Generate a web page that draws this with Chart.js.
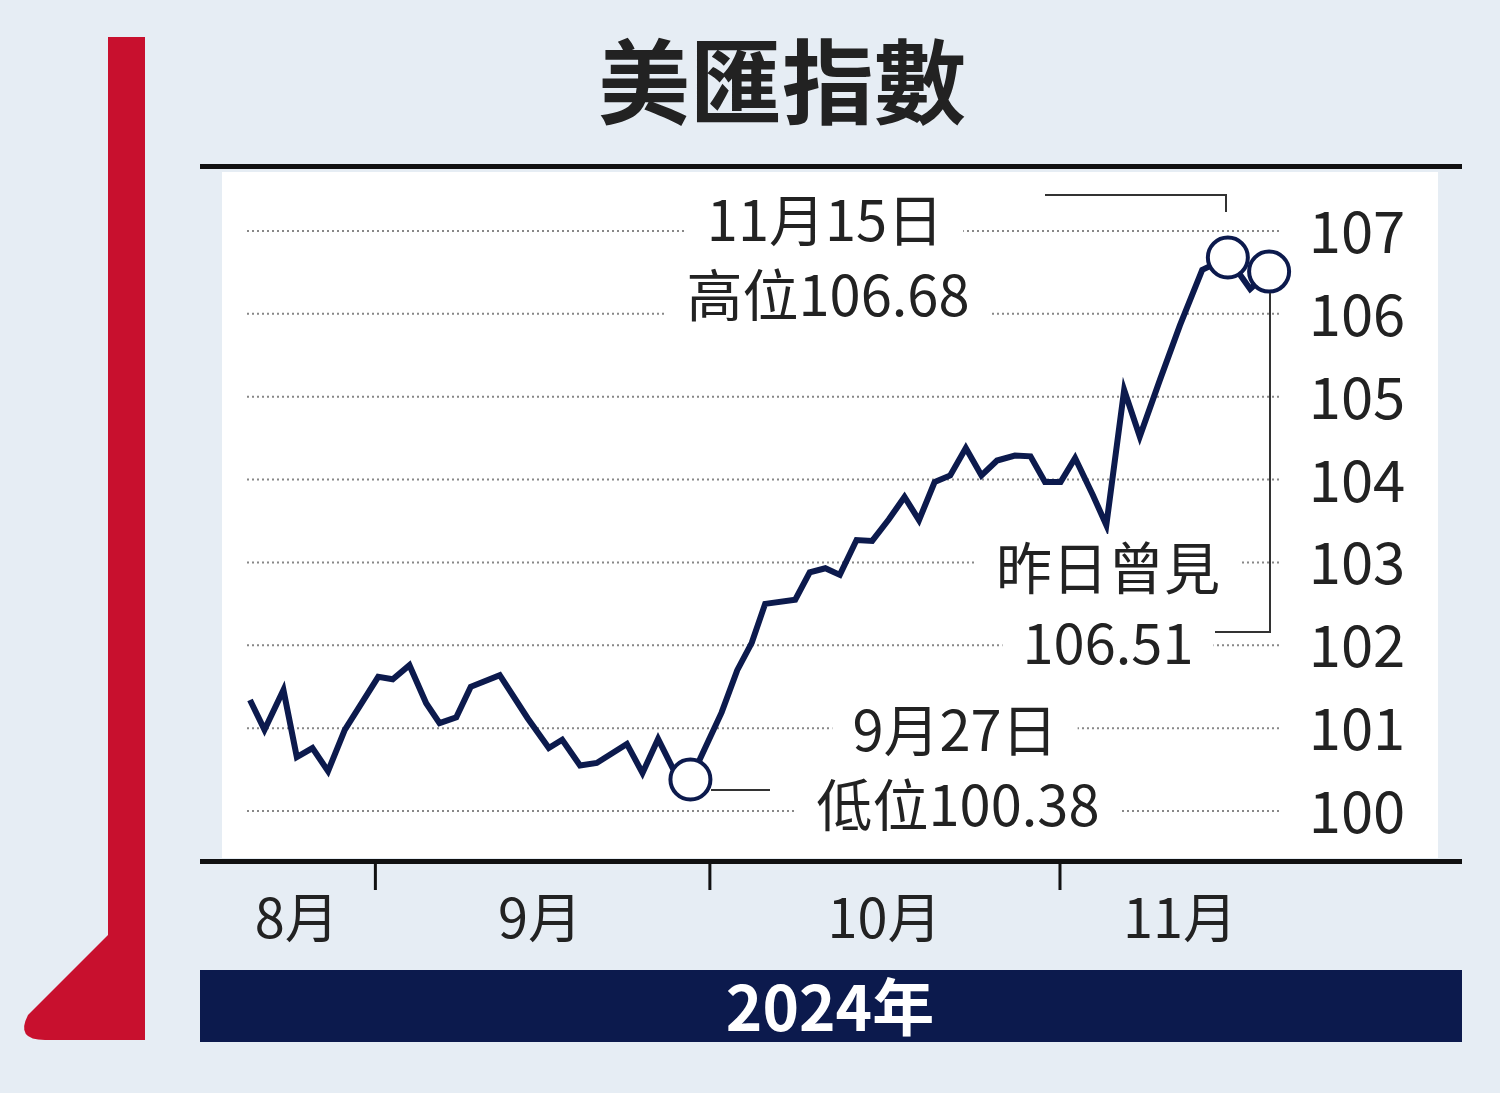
<!DOCTYPE html>
<html><head><meta charset="utf-8">
<script src="https://cdn.jsdelivr.net/npm/chart.js@4/dist/chart.umd.min.js"></script>
<style>html,body{margin:0;padding:0;background:#e6edf4;overflow:hidden}#wrap{width:1500px;height:1093px;position:relative}</style>
</head><body><div id="wrap"><canvas id="c" width="1500" height="1093"></canvas></div>
<script>
// days counted from 20 Aug 2024
const days = [0,1.3,3.0,4.2,5.6,7.0,8.5,10.0,11.5,12.8,14.3,15.8,17.0,18.5,19.8,22.4,24.9,26.8,28.0,29.6,31.1,33.8,35.2,36.6,37.9,39.5,42.3,43.7,45.0,46.2,48.9,50.2,51.6,52.9,54.4,55.8,57.3,58.7,60.0,61.4,62.8,64.2,65.6,67.0,68.6,70.0,71.3,72.7,74.0,75.6,76.8,78.4,79.8,81.6,83.4,85.4,87.7,89.7,91.4];
const dxy = [101.34,100.98,101.46,100.65,100.76,100.48,100.98,101.30,101.62,101.59,101.76,101.30,101.06,101.13,101.50,101.64,101.12,100.76,100.86,100.55,100.58,100.81,100.46,100.87,100.52,100.38,101.19,101.70,102.03,102.50,102.55,102.88,102.93,102.85,103.27,103.26,103.52,103.79,103.51,103.97,104.05,104.38,104.05,104.23,104.29,104.28,103.97,103.97,104.26,103.81,103.45,105.08,104.52,105.20,105.86,106.53,106.68,106.30,106.51];
const yTicks = [100,101,102,103,104,105,106,107];
const monthTicks = [11.2, 41.2, 72.6];
const monthLabels = ['8月','9月','10月','11月'];
const monthLabelPos = [4.2, 26.0, 56.9, 83.4];
const marked = [25, 56, 58];

const FONT = '"Noto Sans CJK TC", "Noto Sans", sans-serif';
const NAVY = '#0c1a4d';

const decor = {
  id: 'decor',
  beforeDraw(chart) {
    const c = chart.ctx, x = chart.scales.x, y = chart.scales.y;
    c.save();
    c.fillStyle = '#e6edf4'; c.fillRect(0, 0, 1500, 1093);
    // red bar
    c.fillStyle = '#c8102e';
    c.fillRect(108, 37, 37, 1003);
    c.beginPath(); c.moveTo(108, 935); c.lineTo(28, 1015);
    c.quadraticCurveTo(15, 1040, 45, 1040); c.lineTo(145, 1040); c.lineTo(145, 935); c.closePath(); c.fill();
    // title
    c.fillStyle = '#222'; c.font = 'bold 92px ' + FONT;
    c.textAlign = 'center'; c.textBaseline = 'middle';
    c.fillText('美匯指數', 782, 82);
    // white box and rules
    c.fillStyle = '#fff'; c.fillRect(222, 172, 1216, 686);
    c.fillStyle = '#111'; c.fillRect(200, 164, 1262, 5); c.fillRect(200, 859, 1262, 5);
    // dotted grid
    c.strokeStyle = '#888'; c.lineWidth = 2; c.setLineDash([2, 3]);
    yTicks.forEach(v => {
      const py = y.getPixelForValue(v);
      c.beginPath(); c.moveTo(247, py); c.lineTo(1280, py); c.stroke();
    });
    c.setLineDash([]);
    // y labels
    c.fillStyle = '#222'; c.font = '58px ' + FONT;
    yTicks.forEach(v => c.fillText(String(v), 1357, y.getPixelForValue(v)));
    // month ticks
    c.fillStyle = '#111';
    monthTicks.forEach(d => c.fillRect(x.getPixelForValue(d) - 1, 864, 3, 26));
    c.font = '54px ' + FONT; c.fillStyle = '#222';
    monthLabels.forEach((l, i) => c.fillText(l, x.getPixelForValue(monthLabelPos[i]), 917));
    // year bar
    c.fillStyle = NAVY; c.fillRect(200, 970, 1262, 72);
    c.fillStyle = '#fff'; c.font = 'bold 62px ' + FONT;
    c.fillText('2024年', 830, 1007);
    c.restore();
  },
  afterDraw(chart) {
    const c = chart.ctx;
    c.save();
    c.strokeStyle = '#333'; c.lineWidth = 2;
    c.beginPath(); c.moveTo(1045, 195); c.lineTo(1226, 195); c.lineTo(1226, 212); c.stroke();
    c.beginPath(); c.moveTo(1270, 293); c.lineTo(1270, 632); c.lineTo(1215, 632); c.stroke();
    c.beginPath(); c.moveTo(711, 790); c.lineTo(770, 790); c.stroke();
    c.textAlign = 'center'; c.textBaseline = 'middle'; c.font = '56px ' + FONT;
    const label = (t, cx, cy) => {
      const w = c.measureText(t).width;
      c.fillStyle = '#fff'; c.fillRect(cx - w / 2 - 20, cy - 34, w + 40, 68);
      c.fillStyle = '#222'; c.fillText(t, cx, cy);
    };
    label('11月15日', 825, 220); label('高位106.68', 828, 295);
    label('昨日曾見', 1108, 568); label('106.51', 1108, 643);
    label('9月27日', 955, 730); label('低位100.38', 958, 805);
    c.restore();
  }
};

new Chart(document.getElementById('c'), {
  type: 'line',
  data: {
    datasets: [{
      data: days.map((d, i) => ({ x: d, y: dxy[i] })),
      borderColor: NAVY, borderWidth: 6, tension: 0,
      pointRadius: dxy.map((v, i) => marked.includes(i) ? 20 : 0),
      pointBackgroundColor: '#fff', pointBorderColor: NAVY, pointBorderWidth: 4
    }]
  },
  options: {
    responsive: false, animation: false, devicePixelRatio: 1,
    layout: { padding: { left: 222, right: 62, top: 172, bottom: 235 } },
    scales: {
      x: { type: 'linear', display: false, min: -28 / 11.15, max: 1188 / 11.15 },
      y: { display: false, min: 100 - 47 / 82.9, max: 107 + 59 / 82.9 }
    },
    plugins: { legend: { display: false }, tooltip: { enabled: false } }
  },
  plugins: [decor]
});
</script>
</body></html>
